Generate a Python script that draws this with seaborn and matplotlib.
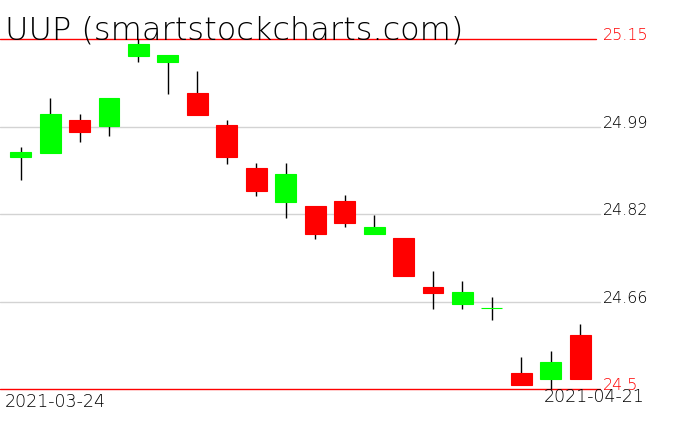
import numpy as np
import matplotlib
matplotlib.use("Agg")
import matplotlib.pyplot as plt
import seaborn as sns

# UUP daily candles
dates = ["2021-03-24", "2021-03-25", "2021-03-26", "2021-03-29", "2021-03-30",
         "2021-03-31", "2021-04-01", "2021-04-05", "2021-04-06", "2021-04-07",
         "2021-04-08", "2021-04-09", "2021-04-12", "2021-04-13", "2021-04-14",
         "2021-04-15", "2021-04-16", "2021-04-19", "2021-04-20", "2021-04-21"]
opens = [24.930, 24.939, 25.000, 24.989, 25.119, 25.108, 25.050, 24.990, 24.910, 24.848,
         24.840, 24.849, 24.788, 24.780, 24.689, 24.658, 24.650, 24.530, 24.519, 24.600]
closes = [24.940, 25.011, 24.978, 25.040, 25.141, 25.120, 25.009, 24.930, 24.868, 24.899,
          24.788, 24.809, 24.801, 24.709, 24.679, 24.680, 24.650, 24.508, 24.550, 24.519]
highs = [24.949, 25.040, 25.011, 25.040, 25.150, 25.120, 25.091, 25.000, 24.920, 24.920,
         24.840, 24.860, 24.823, 24.780, 24.719, 24.701, 24.671, 24.560, 24.570, 24.621]
lows = [24.889, 24.939, 24.959, 24.969, 25.108, 25.048, 25.009, 24.918, 24.859, 24.818,
        24.779, 24.800, 24.788, 24.709, 24.649, 24.649, 24.629, 24.508, 24.500, 24.519]
level_labels = ["24.5", "24.66", "24.82", "24.99", "25.15"]
title = "UUP (smartstockcharts.com)"

sns.set_style("white")
plt.rcParams['font.family'] = ['DejaVu Sans']

o = np.array(opens)
c = np.array(closes)
h = np.array(highs)
l = np.array(lows)
x = np.arange(len(dates))
up = c >= o
colors = np.where(up, "#00ff00", "#ff0000")

fig = plt.figure(figsize=(6.76, 4.31), dpi=100)
ax = fig.add_axes([0, 0, 1, 1])
ax.set_axis_off()

lo, hi = l.min(), h.max()
rng = hi - lo
ax.set_ylim(lo - rng * 41 / 350, hi + rng * 40 / 350)
ax.set_xlim(-0.7, len(dates) + 2.25)

# levels: min / max in red, grid in gray
levels = np.linspace(lo, hi, 5)
for i, (lv, lab) in enumerate(zip(levels, level_labels)):
    edge = i == 0 or i == len(levels) - 1
    col = "#ff0000" if edge else "#d3d3d3"
    end = 596 / 676 if i == len(levels) - 1 else 600 / 676
    ax.axhline(lv, xmin=0, xmax=end, color=col, lw=1.0, zorder=1)
    ax.text(603 / 676, lv, lab, transform=ax.get_yaxis_transform(),
            color="#ff0000" if edge else "black", fontsize=11.5,
            va="baseline", ha="left", fontweight="light")

# candles
ax.vlines(x, l, h, color="black", lw=1.0, zorder=2)
ax.bar(x, c - o, bottom=o, width=0.71, color=colors, edgecolor=colors,
       linewidth=0.8, zorder=3)

fig.text(5 / 676, 1 - 40 / 431, title, fontsize=23, va="baseline",
         ha="left", fontweight="light", color="black")
fig.text(5 / 676, 1 - 407 / 431, dates[0], fontsize=12.5, va="baseline",
         ha="left", fontweight="light", color="black")
fig.text(645 / 676, 1 - 402 / 431, dates[-1], fontsize=12.5, va="baseline",
         ha="right", fontweight="light", color="black")

fig.savefig("out.png", dpi=100)
